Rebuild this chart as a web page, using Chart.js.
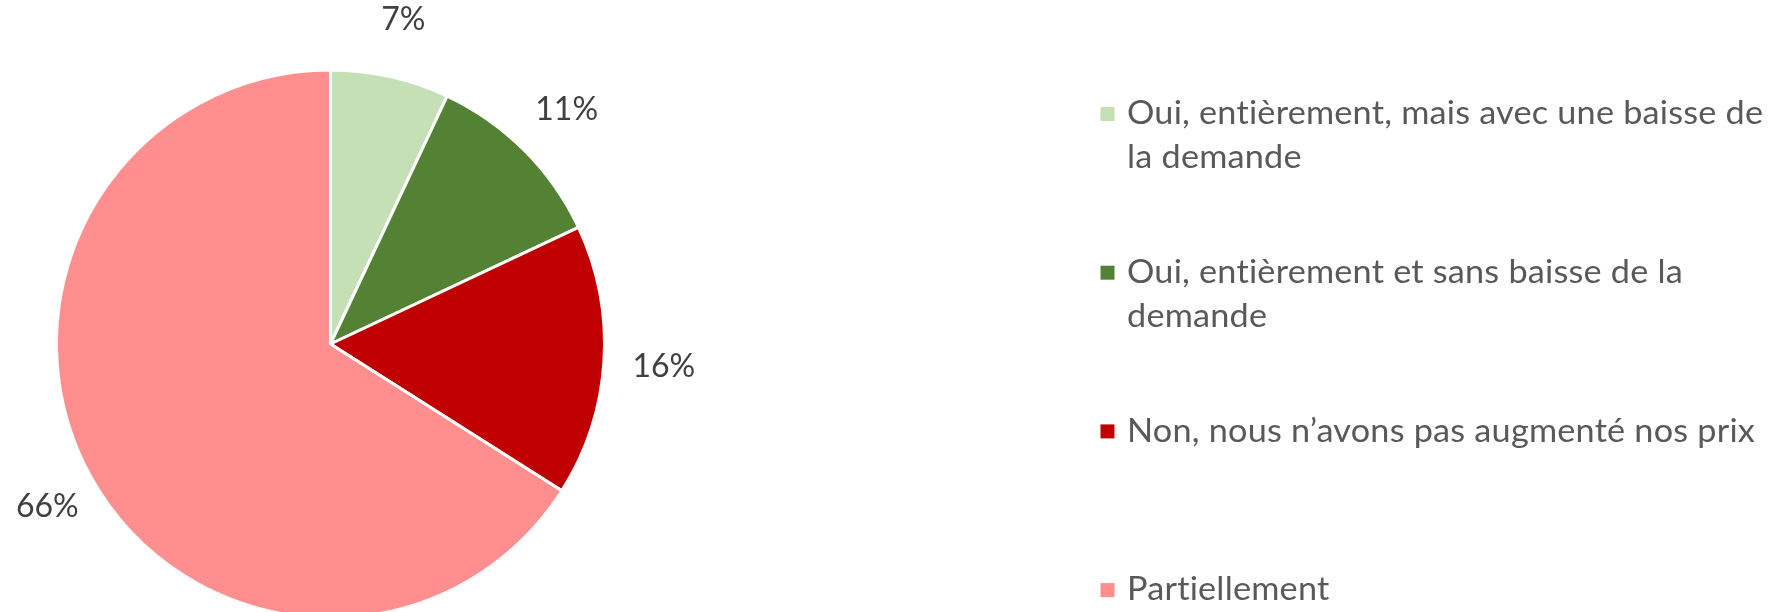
<!DOCTYPE html>
<html><head><meta charset="utf-8">
<script src="https://cdn.jsdelivr.net/npm/chart.js@4/dist/chart.umd.min.js"></script>
<style>
html,body{margin:0;padding:0;background:#fff;overflow:hidden;width:1776px;height:612px}
#wrap{position:absolute;left:0;top:0;width:1776px;height:700px}
</style></head>
<body><div id="wrap"><canvas id="c"></canvas></div>
<script>
// Data
const categories = [
  ['Oui, entièrement, mais avec une baisse de', 'la demande'],
  ['Oui, entièrement et sans baisse de la', 'demande'],
  ['Non, nous n\u2019avons pas augmenté nos prix'],
  ['Partiellement']
];
const values = [7, 11, 16, 66];
const valueLabels = ['7%', '11%', '16%', '66%'];
const colors = ['#C5E0B4', '#548235', '#C00000', '#FF8F8F'];

const FONT = 'Lato, "Liberation Sans", sans-serif';

const labelPlugin = {
  id: 'outsideLabels',
  afterDatasetsDraw(chart) {
    const ctx = chart.ctx;
    const meta = chart.getDatasetMeta(0);
    ctx.save();
    ctx.font = '32px ' + FONT;
    ctx.fillStyle = '#404040';
    ctx.textAlign = 'center';
    ctx.textBaseline = 'middle';
    meta.data.forEach((arc, i) => {
      const p = arc.getProps(['x','y','startAngle','endAngle','outerRadius'], true);
      const mid = (p.startAngle + p.endAngle) / 2;
      const c = Math.cos(mid), s = Math.sin(mid);
      const hw = ctx.measureText(valueLabels[i]).width / 2;
      const d = p.outerRadius + 60;
      let x = p.x + c * d;
      x = Math.max(x, hw + 16);
      ctx.fillText(valueLabels[i], x, p.y + s * d + 2);
    });
    ctx.restore();
  }
};

const legendPlugin = {
  id: 'customLegend',
  afterDraw(chart) {
    const ctx = chart.ctx;
    ctx.save();
    const x0 = 1100.5, tx = 1127, y0 = 114, step = 158.7, lh = 43.5, box = 14, sx = 1.07;
    ctx.font = '32px ' + FONT;
    ctx.letterSpacing = '0.2px';
    ctx.textBaseline = 'middle';
    ctx.textAlign = 'left';
    categories.forEach((lines, i) => {
      const y = y0 + i * step;
      ctx.fillStyle = colors[i];
      ctx.fillRect(x0, y - box / 2, box, box);
      ctx.fillStyle = '#595959';
      lines.forEach((t, j) => {
        ctx.save();
        ctx.translate(tx, y + j * lh);
        ctx.scale(sx, 1);
        ctx.fillText(t, 0, 0);
        ctx.restore();
      });
    });
    ctx.restore();
  }
};

new Chart(document.getElementById('c'), {
  type: 'pie',
  data: {
    labels: categories.map(l => l.join(' ')),
    datasets: [{
      data: values,
      backgroundColor: colors,
      borderColor: '#ffffff',
      borderWidth: 3
    }]
  },
  options: {
    responsive: true,
    maintainAspectRatio: false,
    animation: false,
    layout: { padding: { left: 55, right: 1170, top: 68.5, bottom: 80.5 } },
    plugins: { legend: { display: false }, tooltip: { enabled: false } }
  },
  plugins: [labelPlugin, legendPlugin]
});
</script>
</body></html>
